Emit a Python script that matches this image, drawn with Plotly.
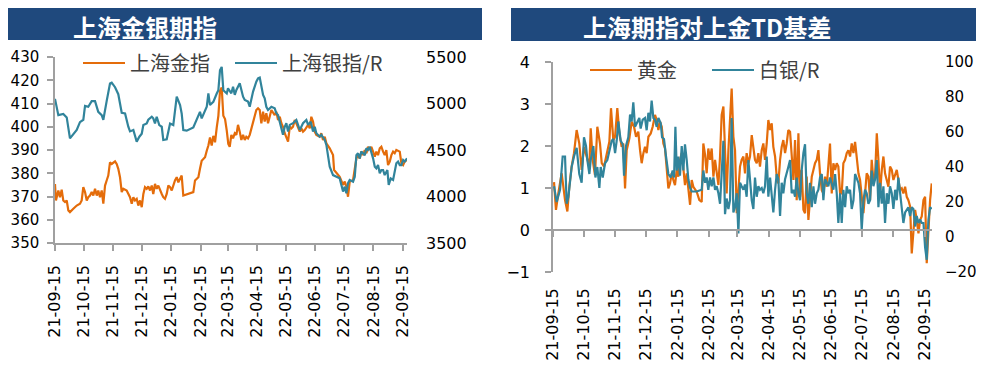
import pandas as pd
import plotly.graph_objects as go

# ---------------- data ----------------
START = pd.Timestamp("2021-09-15")

tick_dates = ["2021-09-15", "2021-10-15", "2021-11-15", "2021-12-15", "2022-01-15",
              "2022-02-15", "2022-03-15", "2022-04-15", "2022-05-15", "2022-06-15",
              "2022-07-15", "2022-08-15", "2022-09-15"]
tick_labels = ["21-09-15", "21-10-15", "21-11-15", "21-12-15", "22-01-15", "22-02-15",
               "22-03-15", "22-04-15", "22-05-15", "22-06-15", "22-07-15", "22-08-15", "22-09-15"]

# left chart: Shanghai gold index (days after 2021-09-15)
gold_days = [0, 1, 3.5, 5.2, 7, 8.7, 10.5, 12.3, 14, 15.7,
             19.2, 22.8, 26.2, 28, 29.7, 31.5, 33.3, 34.9, 36.7, 38.5,
             40.2, 42, 43.8, 45.4, 47.2, 49, 50.7, 52.5, 54.2, 55.9,
             57.7, 59.5, 63, 64.7, 66.4, 68.2, 70, 71.7, 75.2, 78.7,
             80.5, 82.2, 83.9, 85.7, 87.4, 89.2, 91, 92.7, 94.4, 96.2,
             97.9, 99.7, 101.5, 103.1, 104.9, 106.7, 108.4, 110.2, 112, 113.6,
             115.4, 117.2, 118.9, 120.7, 122.5, 125.9, 127.7, 129.4, 131.2, 132.9,
             134.6, 145.1, 146.9, 148.7, 150.4, 152.1, 153.9, 155.6, 157.4, 159.2,
             160.9, 162.6, 164.4, 166.1, 167.9, 169.7, 171.4, 173.1, 174.9, 176.6,
             178.4, 180.2, 181.8, 183.3, 185, 186.8, 188.6, 190.3, 192, 193.8,
             195.5, 197.3, 199.1, 200.7, 202.5, 204.3, 206, 207.8, 209.5, 211.2,
             213, 214.8, 216.5, 218.3, 220, 221.7, 223.5, 225.3, 227, 230.5,
             232.2, 234, 235.8, 237.5, 239.2, 241, 242.7, 244.5, 246.3, 248,
             249.7, 251.5, 253.2, 255, 256.8, 258.4, 260.2, 262, 265.5, 267.3,
             268.9, 270.7, 272.5, 274.2, 277.7, 279.4, 281.2, 283, 284.7, 288.2,
             291.7, 292.8, 295.2, 298.7, 302.2, 304, 305.7, 307.4, 309.2, 312.7,
             316.2, 317.9, 319.7, 321.4, 323.2, 325, 326.7, 328.4, 330.2, 331.9,
             333.7, 335.5, 337.1, 338.9, 340.7, 342.4, 344.2, 345.9, 347.6, 349.4,
             351.2, 352.9, 354.7, 356.4, 358.1, 361.7, 363.4, 365.2, 366.9, 369.3]
gold_index = [375.4, 368.3, 372.6, 369.7, 372.9, 368.3, 367.6, 368.3, 364, 363.3,
              364.7, 366.1, 366.9, 368.3, 374, 371.9, 368.3, 369.7, 370.4, 371.9,
              370.4, 373.3, 370.4, 372.6, 369.7, 372.6, 366.9, 374.7, 376.9, 379,
              384.7, 384, 385.1, 384, 381.9, 378.3, 371.9, 373.3, 372.6, 369.7,
              366.9, 369.7, 368.3, 369, 366.1, 368.3, 365.4, 371.1, 374, 373.3,
              374.3, 372.6, 374.7, 371.1, 375.4, 373.3, 374.7, 372.6, 371.1, 369.7,
              369, 371.1, 374.7, 374, 372.6, 376.9, 378.3, 376.1, 377.6, 379,
              370.4, 371.9, 376.9, 377.6, 378.3, 381.9, 385.4, 386.1, 386.9, 389.7,
              391.9, 395.4, 391.9, 396.1, 393.3, 399.7, 404.7, 415.4, 416.9, 404.7,
              403.3, 398.3, 392.6, 391.4, 396.5, 395, 397.2, 396.5, 400.8, 397.9,
              394.3, 396.5, 394.3, 395.7, 395, 396.5, 399.3, 401.5, 404.3, 407.2,
              407.9, 407.2, 401.5, 406.5, 402.2, 405.8, 401.5, 405, 407.2, 405,
              406.5, 402.9, 404.3, 401.5, 400, 397.2, 395, 393.6, 400, 399.3,
              400, 402.9, 401.5, 400, 397.9, 399.3, 397.9, 398.6, 400.8, 399.3,
              404.3, 402.2, 397.9, 396.5, 395.7, 397.2, 394.3, 395.7, 392.9, 390.7,
              387.8, 381.4, 380, 378.5, 375, 376.4, 374.2, 369.9, 376.4, 377.1,
              386.4, 387.8, 386.4, 389.3, 387.8, 390, 388.6, 391.4, 390, 391.4,
              389.3, 387.1, 389.3, 387.8, 390.7, 391.4, 389.3, 387.8, 390, 383.5,
              385, 387.8, 389.3, 388.6, 390, 389.3, 384.3, 383.5, 385, 385.7]

# left chart: Shanghai silver index (right axis)
silver_days = [0, 3.5, 8.7, 12.3, 15.7, 22.8, 26.2, 29.7, 31.5, 34.9,
               38.5, 42, 45.4, 49, 50.7, 52.5, 54.2, 57.7, 59.5, 63,
               66.4, 70, 73.5, 76.9, 78.7, 82.2, 83.9, 85.7, 88.5, 91,
               92.7, 96.2, 97.9, 101.5, 103.1, 104.9, 106.7, 109.4, 112, 113.6,
               117.2, 120.7, 124.1, 125.9, 127.7, 131.2, 132.9, 134.6, 138.2, 145.1,
               148.7, 152.1, 153.9, 155.6, 157.4, 159.2, 160.9, 162.6, 166.1, 167.9,
               169.7, 171.4, 173.1, 174.9, 176.6, 180.2, 181.5, 185, 186.8, 188.6,
               190.3, 193.8, 195.5, 197.3, 199.1, 202.5, 204.3, 206, 207.8, 211.2,
               213, 214.8, 216.5, 218.3, 220, 221.7, 223.5, 227, 230.5, 232.2,
               234, 235.8, 237.5, 239.2, 241, 242.7, 244.5, 246.3, 249.7, 253.2,
               255, 256.8, 260.2, 263.7, 265.5, 268.3, 270.7, 272.5, 274.2, 277.7,
               279.4, 283, 284.7, 286.5, 288.2, 291.7, 295.2, 298.7, 302.2, 304,
               305.7, 307.4, 309.2, 312.7, 314.5, 316.2, 317.9, 319.7, 321.4, 325,
               326.7, 328.4, 330.2, 331.9, 333.7, 335.5, 337.1, 338.9, 340.7, 342.4,
               344.2, 345.9, 348.7, 350.1, 352.2, 354.7, 356.4, 358.1, 359.9, 361.7,
               363.4, 365.2, 366.9, 369.3]
silver_index = [5050, 4875, 4888, 4850, 4625, 4715, 4800, 4825, 4975, 4965,
                5025, 5025, 4910, 4875, 4825, 4950, 5025, 5215, 5225, 5175,
                5100, 4900, 4893, 4750, 4700, 4715, 4660, 4590, 4643, 4675,
                4768, 4785, 4825, 4858, 4840, 4785, 4858, 4768, 4750, 4608,
                4615, 4785, 4768, 4925, 5073, 4983, 4893, 4715, 4708, 4743,
                4823, 4910, 4840, 4875, 4910, 4965, 5108, 4983, 5018, 5073,
                5108, 5143, 5358, 5393, 5143, 5108, 5163, 5110, 5180, 5093,
                5145, 5218, 5128, 5073, 5038, 5020, 4965, 5055, 5128, 5235,
                5270, 5278, 5200, 5093, 5055, 4965, 4930, 4965, 4948, 4895,
                4875, 4805, 4733, 4663, 4750, 4788, 4698, 4770, 4788, 4823,
                4770, 4715, 4788, 4823, 4770, 4805, 4698, 4750, 4680, 4643,
                4663, 4608, 4555, 4445, 4320, 4230, 4213, 4195, 4053, 4105,
                4035, 4143, 4178, 4160, 4213, 4445, 4465, 4410, 4483, 4445,
                4518, 4500, 4535, 4483, 4410, 4320, 4303, 4338, 4250, 4285,
                4285, 4230, 4285, 4125, 4195, 4178, 4285, 4358, 4375, 4338,
                4338, 4393, 4375, 4410]

# right chart: gold futures vs TD basis
au_days = [1.0, 2.9, 5.2, 8.5, 11.8, 14.1, 16.0, 18.3, 20.6, 23.2,
           25.8, 28.1, 30.4, 33.0, 35.7, 37.0, 38.9, 41.2, 43.5, 46.1,
           47.8, 50.1, 52.7, 55.3, 56.9, 59.2, 60.9, 63.1, 65.1, 67.4,
           69.0, 70.7, 72.3, 74.9, 77.2, 79.5, 81.5, 83.7, 85.4, 87.0,
           88.7, 90.3, 91.9, 93.6, 95.9, 97.8, 100.1, 101.7, 103.4, 105.0,
           106.7, 108.3, 109.9, 111.6, 113.2, 114.8, 116.5, 118.1, 119.7, 121.4,
           123.0, 124.6, 126.3, 127.9, 129.5, 131.2, 132.8, 134.5, 136.1, 137.7,
           141.0, 143.6, 145.9, 147.5, 149.2, 150.8, 152.4, 154.1, 155.7, 157.4,
           159.0, 160.6, 162.3, 163.9, 165.5, 167.2, 168.8, 170.4, 172.1, 173.7,
           175.3, 177.0, 178.6, 180.3, 181.9]
late_days = [183.5, 185.1, 186.8, 188.4, 190.0, 191.7, 193.3, 195.0, 196.6, 198.2,
             199.9, 201.5, 203.1, 204.8, 206.4, 208.0, 209.7, 211.3, 213.0, 214.6,
             216.2, 217.9, 219.5, 221.1, 222.8, 224.4, 226.0, 227.7, 229.3, 230.9,
             232.6, 234.2, 235.9, 237.5, 239.1, 240.8, 242.4, 244.0, 245.7, 247.3,
             248.9, 250.6, 252.2, 253.9, 255.5, 257.1, 258.8, 260.4, 262.0, 263.7,
             265.3, 266.9, 268.6, 270.2, 271.8, 273.5, 275.1, 276.8, 278.4, 280.0,
             281.7, 283.3, 284.9, 286.6, 288.2, 289.8, 291.5, 293.1, 294.8, 296.4,
             298.0, 299.7, 301.3, 302.9, 304.6, 306.2, 307.8, 309.5, 311.1, 312.7,
             314.4, 316.0, 317.7, 319.3, 320.9, 322.6, 324.2, 325.8, 327.5, 329.1,
             330.7, 332.4, 334.0, 335.7, 337.3, 338.9, 340.6, 342.2, 343.8, 345.5,
             347.1, 348.7, 350.4, 352.0, 353.6, 355.3, 356.9, 358.6, 360.2, 361.8,
             363.5, 365.1, 366.7, 368.4, 370.0, 371.6]
au_basis_early = [1.14, 0.48, 0.87, 1.35, 0.71, 0.44, 1.03, 1.51, 1.83, 2.38,
                  2.06, 1.43, 1.98, 1.75, 1.51, 2.42, 1.67, 1.31, 2.46, 2.06,
                  1.59, 1.51, 1.83, 2.10, 2.90, 2.14, 2.22, 2.90, 2.30, 1.98,
                  2.06, 0.99, 1.90, 2.18, 2.58, 2.46, 2.22, 2.34, 1.90, 1.59,
                  1.83, 1.98, 1.83, 2.22, 2.30, 2.46, 2.74, 2.62, 2.38, 2.58,
                  2.46, 2.06, 1.94, 1.51, 0.99, 1.11, 1.35, 1.19, 1.07, 1.43,
                  1.27, 1.67, 1.83, 1.47, 1.07, 1.35, 1.03, 0.60, 1.19, 1.03,
                  0.91, 0.71, 0.67, 2.06, 1.79, 1.35, 1.94, 1.67, 1.94, 1.27,
                  1.67, 1.31, 1.07, 1.75, 2.74, 2.94, 1.83, 0.87, 1.90, 2.66,
                  3.37, 2.22, 1.90, 0.40, 0.87]
au_basis_late = [1.51, 1.67, 1.75, 1.35, 1.83, 1.59, 1.75, 2.26, 1.98, 1.67,
                 1.59, 1.83, 1.51, 1.90, 2.06, 1.67, 2.06, 2.62, 2.38, 2.54,
                 1.98, 1.75, 1.27, 1.11, 1.67, 1.98, 2.14, 1.83, 2.06, 2.38,
                 2.34, 1.67, 1.19, 2.14, 0.71, 2.30, 0.79, 1.43, 0.48, 0.40,
                 1.27, 0.24, 0.71, 1.27, 1.43, 1.59, 1.67, 1.90, 1.35, 0.95,
                 0.87, 1.27, 1.03, 1.67, 2.06, 0.87, 1.59, 1.43, 1.59, 1.51,
                 0.87, 0.87, 1.59, 1.67, 1.83, 1.90, 1.75, 2.06, 1.83, 2.10,
                 1.71, 1.35, 1.19, 0.71, 0.40, 0.87, 1.35, 1.27, 0.71, 1.67,
                 1.19, 1.27, 2.30, 1.67, 0.87, 1.43, 1.75, 1.35, 1.19, 1.03,
                 1.51, 1.43, 1.19, 1.35, 1.43, 1.19, 0.95, 0.99, 0.87, 1.03,
                 0.79, 0.71, 0.56, -0.56, -0.08, 0.48, 0.24, -0.08, 0.24, 0.32,
                 0.71, 0.79, -0.79, 0.08, 0.71, 1.11]

# right chart: silver futures vs TD basis (right axis)
ag_days = [1.0, 3.6, 6.9, 9.5, 11.8, 13.4, 15.1, 16.7, 18.3, 20.6,
           23.2, 25.8, 28.1, 30.4, 32.4, 33.7, 35.7, 37.0, 39.6, 41.6,
           43.5, 45.5, 46.8, 48.8, 51.0, 53.3, 55.3, 57.6, 59.2, 60.9,
           62.5, 64.1, 66.4, 68.4, 69.7, 71.6, 73.9, 75.6, 77.2, 78.8,
           80.5, 82.8, 84.7, 86.0, 88.0, 90.3, 91.9, 93.6, 95.2, 96.8,
           98.5, 100.1, 101.7, 103.4, 105.7, 107.0, 108.9, 110.9, 113.2, 115.5,
           117.4, 118.8, 120.1, 121.4, 123.0, 124.6, 126.3, 127.9, 129.5, 131.2,
           132.8, 134.5, 136.1, 141.0, 145.9, 147.5, 149.2, 150.8, 152.4, 154.1,
           155.7, 157.4, 159.0, 160.6, 162.3, 163.9, 165.5, 167.2, 168.8, 170.4,
           172.1, 173.7, 175.3, 177.0, 178.6, 180.3, 181.9]
ag_basis_early = [29, 20, 27, 46, 46, 19, 23, 34, 40, 46,
                  51, 36, 31, 57, 52, 44, 36, 44, 52, 34,
                  40, 28, 40, 34, 42, 44, 49, 55, 56, 48,
                  55, 66, 55, 53, 35, 52, 57, 70, 66, 77,
                  63, 66, 68, 62, 67, 68, 61, 71, 66, 78,
                  68, 67, 63, 68, 65, 57, 56, 46, 36, 34,
                  38, 34, 63, 38, 46, 35, 52, 38, 53, 44,
                  33, 28, 26, 26, 27, 38, 31, 34, 27, 34,
                  29, 34, 27, 29, 25, 19, 38, 55, 13, 22,
                  16, 21, 68, 14, 17, 25, 2]
ag_basis_late = [31, 29, 27, 30, 23, 44, 31, 21, 16, 34,
                 23, 29, 27, 28, 25, 29, 46, 23, 34, 25,
                 14, 27, 36, 33, 12, 31, 25, 33, 36, 40,
                 44, 25, 27, 23, 34, 25, 21, 38, 48, 53,
                 25, 19, 31, 17, 29, 19, 25, 27, 34, 36,
                 21, 33, 31, 29, 34, 31, 27, 36, 25, 8,
                 25, 8, 27, 17, 29, 25, 27, 16, 21, 36,
                 33, 31, 25, 4, 21, 27, 25, 19, 21, 38,
                 29, 33, 44, 17, 31, 19, 29, 8, 25, 19,
                 29, 25, 16, 27, 21, 34, 25, 17, 8, 14,
                 16, 17, 12, 17, 16, 6, 12, 8, 10, 8,
                 8, -6, -13, 10, 17, 16]

# ---------------- helpers ----------------
def to_dates(days):
    return [START + pd.to_timedelta(d, unit="D") for d in days]

# The page body adds an 8px margin, so the figure is sized to fit the window
# and screen positions are mapped into figure coordinates.
OFF = 8
W, H = 984 - OFF, 368 - OFF
def px(x):
    return (x - OFF) / W
def py(y):
    return (368 - y) / H

ORANGE = "#E46C0A"
TEAL = "#31849B"
AXIS = "#A0A0A0"
TICKFONT = dict(family="DejaVu Sans", size=16, color="#000000")
TICKFONT_S = dict(family="DejaVu Sans", size=15, color="#000000")
LEGFONT = dict(family="Noto Sans CJK SC", size=20, color="#404040")
TITLEFONT = dict(family="Noto Sans CJK SC", size=24, color="white")

fig = go.Figure()
fig.add_trace(go.Scatter(x=to_dates(gold_days), y=gold_index, name="上海金指",
                         mode="lines", line=dict(color=ORANGE, width=2.2),
                         xaxis="x", yaxis="y", legend="legend"))
fig.add_trace(go.Scatter(x=to_dates(silver_days), y=silver_index, name="上海银指/R",
                         mode="lines", line=dict(color=TEAL, width=2.2),
                         xaxis="x", yaxis="y2", legend="legend"))
fig.add_trace(go.Scatter(x=to_dates(au_days + late_days), y=au_basis_early + au_basis_late,
                         name="黄金", mode="lines", line=dict(color=ORANGE, width=2.2),
                         xaxis="x2", yaxis="y3", legend="legend2"))
fig.add_trace(go.Scatter(x=to_dates(ag_days + late_days), y=ag_basis_early + ag_basis_late,
                         name="白银/R", mode="lines", line=dict(color=TEAL, width=2.2),
                         xaxis="x3", yaxis="y4", legend="legend2"))

left_range = ["2021-09-15", "2022-09-19 07:00"]
right_range = ["2021-09-15", "2022-09-21 21:00"]

xcommon = dict(type="date", tickvals=tick_dates, ticktext=tick_labels, tickangle=-90,
               tickfont=TICKFONT, showgrid=False, zeroline=False, automargin=False)
yline = dict(showline=True, linecolor=AXIS, linewidth=1.5, ticks="outside", ticklen=6,
             tickcolor=AXIS, tickwidth=1.5, showgrid=False, zeroline=False,
             automargin=False)
yright = dict(showline=False, ticks="", showgrid=False, zeroline=False, automargin=False)

fig.update_layout(
    template="none",
    width=W, height=H, autosize=False,
    margin=dict(l=0, r=0, t=0, b=0, pad=0, autoexpand=False),
    paper_bgcolor="white", plot_bgcolor="rgba(0,0,0,0)",
    showlegend=True,
    xaxis=dict(domain=[px(55), px(407)], anchor="y", range=left_range,
               showline=True, linecolor=AXIS, linewidth=1.5,
               ticks="outside", ticklen=6, tickcolor=AXIS, tickwidth=1.5,
               ticklabelstandoff=8, **xcommon),
    yaxis=dict(domain=[py(243), py(57)], anchor="x", range=[350, 430], dtick=10,
               tick0=350, ticklabelstandoff=5, tickfont=TICKFONT_S, **yline),
    yaxis2=dict(overlaying="y", side="right", anchor="x", range=[3500, 5500],
                dtick=500, tick0=3500, tickfont=TICKFONT, ticklabelstandoff=18, **yright),
    xaxis2=dict(domain=[px(553), px(932)], anchor="y3", range=right_range,
                showline=False, ticks="", ticklabelstandoff=12, **xcommon),
    xaxis3=dict(overlaying="x2", anchor="free", position=py(230), range=right_range,
                type="date", tickvals=tick_dates, showticklabels=False,
                showline=True, linecolor=AXIS, linewidth=1.5,
                ticks="outside", ticklen=6, tickcolor=AXIS, tickwidth=1.5,
                showgrid=False, zeroline=False, automargin=False),
    yaxis3=dict(domain=[py(272), py(62)], anchor="x2", range=[-1, 4], dtick=1,
                tick0=-1, ticklabelstandoff=12, tickfont=TICKFONT, **yline),
    yaxis4=dict(overlaying="y3", side="right", anchor="x2", range=[-20, 100],
                dtick=20, tick0=-20, tickfont=TICKFONT_S, ticklabelstandoff=12, **yright),
    legend=dict(x=px(78), y=py(63), xanchor="left", yanchor="middle",
                orientation="h", font=LEGFONT, bgcolor="rgba(0,0,0,0)",
                borderwidth=0, itemwidth=42, entrywidth=95, tracegroupgap=0),
    legend2=dict(x=px(585), y=py(70), xanchor="left", yanchor="middle",
                 orientation="h", font=LEGFONT, bgcolor="rgba(0,0,0,0)",
                 borderwidth=0, itemwidth=42, entrywidth=65, tracegroupgap=0),
    shapes=[
        dict(type="rect", xref="paper", yref="paper", x0=0, x1=px(482),
             y0=py(40), y1=1, fillcolor="#1F497D", line=dict(width=0), layer="below"),
        dict(type="rect", xref="paper", yref="paper", x0=px(511), x1=1,
             y0=py(41), y1=1, fillcolor="#1F497D", line=dict(width=0), layer="below"),
    ],
    annotations=[
        dict(text="<b>上海金银期指</b>", xref="paper", yref="paper", x=px(72), y=py(26),
             xanchor="left", yanchor="middle", showarrow=False, borderpad=0,
             font=TITLEFONT),
        dict(text="<b>上海期指对上金TD基差</b>", xref="paper", yref="paper", x=px(582),
             y=py(26), xanchor="left", yanchor="middle", showarrow=False, borderpad=0,
             font=TITLEFONT),
    ],
)

fig.write_html("out.html")
